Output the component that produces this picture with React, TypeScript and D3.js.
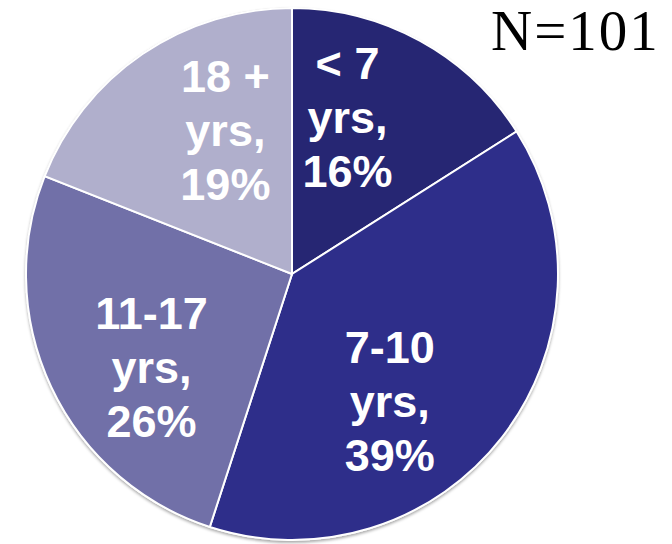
import React from "react";
import * as d3 from "d3";

const categories = ["< 7", "7-10", "11-17", "18 +"];
const values = [16, 39, 26, 19];
const unitLabel = "yrs,";
const colors = ["#262673", "#2e2e8a", "#7170a8", "#b0afcc"];
const labelNudges: [number, number][] = [
  [-23, -14],
  [-31, 27],
  [7, 24],
  [25, -9],
];
const nLabel = "N=101";

const W = 672;
const H = 544;
const cx = 292;
const cy = 274;
const R = 266;

export default function App() {
  const pie = d3
    .pie<number>()
    .sort(null)
    .value((d) => d)(values);
  const arc = d3.arc<d3.PieArcDatum<number>>().innerRadius(0).outerRadius(R);
  const labelArc = d3
    .arc<d3.PieArcDatum<number>>()
    .innerRadius(163)
    .outerRadius(163);
  const total = d3.sum(values);
  const lineH = 54;

  return (
    <svg
      width={W}
      height={H}
      style={{ position: "absolute", left: 0, top: 0, background: "#fff" }}
    >
      <defs>
        <filter id="sh" x="-10%" y="-10%" width="120%" height="120%">
          <feDropShadow dx="0" dy="2" stdDeviation="1.5" floodColor="#000" floodOpacity="0.35" />
        </filter>
      </defs>
      <g transform={`translate(${cx},${cy})`}>
        <circle r={R} fill="#fff" stroke="#d8d8d8" strokeWidth={1.5} filter="url(#sh)" />
        {pie.map((p, i) => (
          <path key={i} d={arc(p) || ""} fill={colors[i]} stroke="#fff" strokeWidth={2} />
        ))}
        {pie.map((p, i) => {
          const [x, y] = labelArc.centroid(p);
          const mx = x + labelNudges[i][0];
          const my = y + labelNudges[i][1];
          const b1 = my - 38;
          const pct = Math.round((p.value / total) * 100) + "%";
          return (
            <text
              key={"t" + i}
              x={mx}
              y={b1}
              textAnchor="middle"
              fill="#fff"
              fontFamily="'Liberation Sans', Arial, sans-serif"
              fontWeight="bold"
              fontSize={45}
            >
              <tspan x={mx} dy={0}>{categories[i]}</tspan>
              <tspan x={mx} dy={lineH}>{unitLabel}</tspan>
              <tspan x={mx} dy={lineH}>{pct}</tspan>
            </text>
          );
        })}
      </g>
      <text
        x={491}
        y={50}
        fontFamily="'Liberation Serif', 'Times New Roman', serif"
        fontSize={57}
        letterSpacing={2}
        fill="#000"
      >
        {nLabel}
      </text>
    </svg>
  );
}
